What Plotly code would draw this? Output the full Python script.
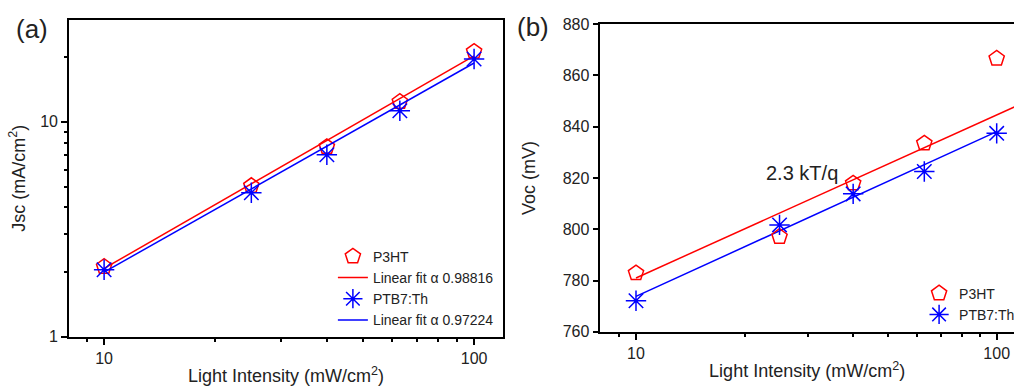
import plotly.graph_objects as go

# ---- data ----
intensity = [10, 25, 40, 63, 100]
jsc_p3ht = [2.12, 5.04, 7.65, 12.4, 21.2]
jsc_ptb7 = [2.05, 4.68, 7.03, 11.25, 19.6]
jsc_fit_x = [10, 100]
jsc_fit_p3ht = [2.08, 20.24]
jsc_fit_ptb7 = [2.0, 18.76]

voc_p3ht = [782.9, 797.1, 817.9, 833.5, 866.6]
voc_ptb7 = [772.1, 801.7, 813.8, 822.5, 837.4]
voc_fit_p3ht_x = [10, 120]
voc_fit_p3ht = [781.0, 849.6]
voc_fit_ptb7_x = [10, 100]
voc_fit_ptb7 = [773.8, 838.1]

RED = "#ff0000"
BLUE = "#0000ff"
FONT = "Arial, Liberation Sans, sans-serif"

fig = go.Figure()

# panel (a)
fig.add_trace(go.Scatter(x=intensity, y=jsc_p3ht, mode="markers", name="P3HT",
                         marker=dict(symbol="pentagon-open", size=16, color=RED, line=dict(width=1.5, color=RED)),
                         xaxis="x", yaxis="y", legend="legend"))
fig.add_trace(go.Scatter(x=jsc_fit_x, y=jsc_fit_p3ht, mode="lines", name="Linear fit \u03b1 0.98816",
                         line=dict(color=RED, width=1.5), xaxis="x", yaxis="y", legend="legend"))
fig.add_trace(go.Scatter(x=intensity, y=jsc_ptb7, mode="markers", name="PTB7:Th",
                         marker=dict(symbol="asterisk-open", size=17, color=BLUE, line=dict(width=1.5, color=BLUE)),
                         xaxis="x", yaxis="y", legend="legend"))
fig.add_trace(go.Scatter(x=jsc_fit_x, y=jsc_fit_ptb7, mode="lines", name="Linear fit \u03b1 0.97224",
                         line=dict(color=BLUE, width=1.5), xaxis="x", yaxis="y", legend="legend"))

# panel (b)
fig.add_trace(go.Scatter(x=voc_fit_p3ht_x, y=voc_fit_p3ht, mode="lines", showlegend=False,
                         line=dict(color=RED, width=1.5), xaxis="x2", yaxis="y2"))
fig.add_trace(go.Scatter(x=voc_fit_ptb7_x, y=voc_fit_ptb7, mode="lines", showlegend=False,
                         line=dict(color=BLUE, width=1.5), xaxis="x2", yaxis="y2"))
fig.add_trace(go.Scatter(x=intensity, y=voc_p3ht, mode="markers", name="P3HT",
                         marker=dict(symbol="pentagon-open", size=16, color=RED, line=dict(width=1.5, color=RED)),
                         xaxis="x2", yaxis="y2", legend="legend2"))
fig.add_trace(go.Scatter(x=intensity, y=voc_ptb7, mode="markers", name="PTB7:Th",
                         marker=dict(symbol="asterisk-open", size=17, color=BLUE, line=dict(width=1.5, color=BLUE)),
                         xaxis="x2", yaxis="y2", legend="legend2"))

axis_common = dict(showline=True, linecolor="black", linewidth=1.5, ticks="outside",
                   ticklen=6, tickwidth=1.5, tickcolor="black", showgrid=False, zeroline=False,
                   automargin=False,
                   tickfont=dict(family=FONT, size=16, color="#222"),
                   title_font=dict(family=FONT, size=18, color="#222"))

xtitle = "Light Intensity (mW/cm<sup>2</sup>)"

fig.update_layout(
    width=1014, height=389,
    margin=dict(l=0, r=0, t=0, b=0, autoexpand=False),
    paper_bgcolor="white", plot_bgcolor="white",
    font=dict(family=FONT, color="#222"),
    xaxis=dict(domain=[0.068, 0.496], type="log", range=[0.905, 2.078], anchor="y",
               tickvals=[10, 100], ticktext=["10", "100"], mirror=True,
               minor=dict(ticks="outside", ticklen=3, tickwidth=1.5, tickcolor="black",
                          tickvals=[9, 20, 30, 40, 50, 60, 70, 80, 90]),
               title=dict(text=xtitle, standoff=4), **axis_common),
    yaxis=dict(domain=[0.134, 0.949], type="log", range=[0, 1.474], anchor="x",
               tickvals=[1, 10], ticktext=["1", "10"], mirror=True,
               minor=dict(ticks="outside", ticklen=3, tickwidth=1.5, tickcolor="black",
                          tickvals=[2, 3, 4, 5, 6, 7, 8, 9, 20, 30]),
               title=dict(text="Jsc (mA/cm<sup>2</sup>)", standoff=10), **axis_common),
    xaxis2=dict(domain=[0.592, 1.0], type="log", range=[0.901, 2.048], anchor="y2",
                tickvals=[10, 100], ticktext=["10", "100"], mirror=True,
                minor=dict(ticks="outside", ticklen=3, tickwidth=1.5, tickcolor="black",
                           tickvals=[9, 20, 30, 40, 50, 60, 70, 80, 90]),
                title=dict(text=xtitle, standoff=4), **axis_common),
    yaxis2=dict(domain=[0.147, 0.938], range=[760, 880], anchor="x2",
                tickvals=[760, 780, 800, 820, 840, 860, 880], mirror=False,
                title=dict(text="Voc (mV)", standoff=22), **axis_common),
    legend=dict(x=0.492, y=0.137, xanchor="right", yanchor="bottom", bgcolor="rgba(0,0,0,0)",
                font=dict(family=FONT, size=14, color="#222"), tracegroupgap=0,
                itemwidth=30),
    legend2=dict(x=1.006, y=0.15, xanchor="right", yanchor="bottom", bgcolor="rgba(0,0,0,0)",
                 font=dict(family=FONT, size=14, color="#222"), tracegroupgap=0,
                 itemwidth=30),
    annotations=[
        dict(text="(a)", x=0.032, y=0.925, xref="paper", yref="paper", showarrow=False,
             xanchor="center", yanchor="middle",
             font=dict(family=FONT, size=26, color="#222")),
        dict(text="(b)", x=0.526, y=0.93, xref="paper", yref="paper", showarrow=False,
             xanchor="center", yanchor="middle",
             font=dict(family=FONT, size=26, color="#222")),
        dict(text="2.3 kT/q", x=0.791, y=0.555, xref="paper", yref="paper", showarrow=False,
             xanchor="center", yanchor="middle",
             font=dict(family=FONT, size=20, color="#222")),
    ],
)

fig.write_html("out.html", config={"displayModeBar": False},
               post_script="document.body.style.margin='0';document.body.style.overflow='hidden';")
